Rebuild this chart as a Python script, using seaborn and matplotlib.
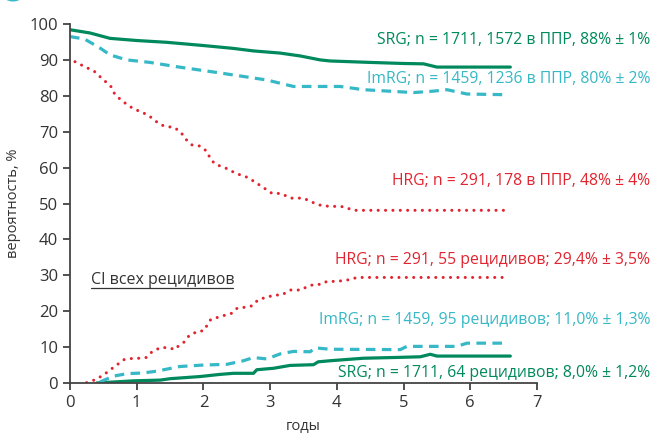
import matplotlib
matplotlib.use("Agg")
import matplotlib.pyplot as plt
import seaborn as sns
from matplotlib.patches import Circle

# colours
GREEN = "#00895c"
CYAN = "#36b8c6"
RED = "#e12530"

# --- survival curves (годы, %) ---
srg_t = [0, 0.3, 0.6, 1.0, 1.45, 2.0, 2.45, 2.75, 3.15, 3.45, 3.75, 3.9, 4.5, 5.0, 5.3, 5.5, 6.6]
srg_v = [98.4, 97.5, 96.0, 95.4, 94.9, 94.0, 93.2, 92.5, 91.9, 91.1, 90.0, 89.7, 89.3, 89.0, 88.9, 88.0, 88.0]

imrg_t = [0, 0.22, 0.45, 0.6, 0.85, 1.2, 1.6, 2.2, 2.95, 3.15, 3.35, 4.05, 4.4, 5.15, 5.45, 5.65, 5.95, 6.55]
imrg_v = [96.5, 95.8, 93.3, 91.4, 90.0, 89.3, 88.1, 86.5, 84.4, 83.5, 82.6, 82.6, 81.7, 80.9, 81.3, 81.7, 80.5, 80.3]

hrg_t = [0.075, 0.22, 0.36, 0.48, 0.61, 0.67, 0.76, 0.86, 0.96, 1.07, 1.18, 1.26, 1.36, 1.46,
         1.56, 1.66, 1.73, 1.83, 1.95, 2.06, 2.10, 2.18, 2.29, 2.39, 2.49, 2.59, 2.68, 2.77,
         2.91, 3.03, 3.16, 3.31, 3.49, 3.60, 3.69, 3.81, 4.1, 4.25, 6.55]
hrg_v = [89.5, 88.1, 86.9, 84.8, 82.7, 80.5, 78.9, 77.5, 76.3, 75.5, 74.5, 73.3, 71.9, 71.4,
         71.2, 69.9, 68.0, 66.3, 66.0, 64.4, 62.5, 60.9, 60.2, 59.4, 58.3, 57.8, 57.1, 56.0,
         54.3, 52.8, 52.8, 51.5, 51.5, 50.7, 49.8, 49.3, 49.1, 48.1, 48.1]

# --- cumulative incidence of relapse ---
hrg_ci_t = [0.25, 0.375, 0.5, 0.67, 0.81, 0.91, 1.04, 1.14, 1.23, 1.36, 1.49, 1.57, 1.63, 1.71,
            1.79, 1.93, 2.0, 2.06, 2.11, 2.27, 2.42, 2.51, 2.63, 2.73, 2.80, 2.86, 2.95, 3.05,
            3.17, 3.31, 3.46, 3.56, 3.65, 3.77, 3.85, 4.0, 4.2, 4.3, 6.55]
hrg_ci_v = [0.1, 0.9, 2.2, 4.6, 6.5, 6.8, 6.9, 7.1, 8.7, 9.9, 9.8, 9.3, 10.4, 11.4,
            13.3, 14.5, 14.5, 16.2, 17.7, 18.6, 19.4, 20.9, 21.1, 21.5, 22.8, 23.5, 23.8, 24.5,
            24.5, 25.9, 25.9, 26.9, 27.4, 27.5, 28.3, 28.3, 28.8, 29.4, 29.4]

imrg_ci_t = [0.45, 0.65, 0.85, 1.1, 1.3, 1.65, 2.0, 2.35, 2.6, 2.75, 2.95, 3.15, 3.35, 3.6, 3.67,
             3.9, 4.95, 5.05, 5.8, 5.95, 6.55]
imrg_ci_v = [0.3, 1.9, 2.6, 2.8, 3.3, 4.6, 5.0, 5.2, 6.2, 7.1, 6.7, 8.1, 8.8, 8.7, 9.8,
             9.4, 9.3, 10.2, 10.2, 11.1, 11.1]

srg_ci_t = [0.4, 0.95, 1.35, 1.5, 1.95, 2.25, 2.45, 2.75, 2.8, 3.05, 3.3, 3.65, 3.72, 3.9,
            4.4, 4.85, 5.25, 5.4, 5.5, 6.6]
srg_ci_v = [0.0, 0.6, 0.8, 1.2, 1.8, 2.4, 2.7, 2.7, 3.7, 4.1, 4.9, 5.1, 5.9, 6.2,
            6.9, 7.1, 7.3, 8.0, 7.5, 7.5]

labels = [
    ("SRG; n = 1711, 1572 в ППР, 88% ± 1%", 95.6, GREEN),
    ("ImRG; n = 1459, 1236 в ППР, 80% ± 2%", 84.7, CYAN),
    ("HRG; n = 291, 178 в ППР, 48% ± 4%", 56.4, RED),
    ("HRG; n = 291, 55 рецидивов; 29,4% ± 3,5%", 34.4, RED),
    ("ImRG; n = 1459, 95 рецидивов; 11,0% ± 1,3%", 17.6, CYAN),
    ("SRG; n = 1711, 64 рецидивов; 8,0% ± 1,2%", 2.9, GREEN),
]

sns.set_style("ticks")
plt.rcParams['font.family'] = ['Open Sans', 'DejaVu Sans']

fig = plt.figure(figsize=(6.62, 4.38), dpi=100)
ax = fig.add_axes([70 / 662, 55 / 438, 467 / 662, 359 / 438])

dash = (0, (3, 2))
dot = (0, (0.01, 2.4))

sns.lineplot(x=srg_t, y=srg_v, ax=ax, color=GREEN, lw=2.3, estimator=None, sort=False)
sns.lineplot(x=imrg_t, y=imrg_v, ax=ax, color=CYAN, lw=2.3, estimator=None, sort=False,
             linestyle=dash)
sns.lineplot(x=hrg_t, y=hrg_v, ax=ax, color=RED, lw=2.2, estimator=None, sort=False,
             linestyle=dot, dash_capstyle="round")

sns.lineplot(x=srg_ci_t, y=srg_ci_v, ax=ax, color=GREEN, lw=2.3, estimator=None, sort=False)
sns.lineplot(x=imrg_ci_t, y=imrg_ci_v, ax=ax, color=CYAN, lw=2.3, estimator=None, sort=False,
             linestyle=dash)
sns.lineplot(x=hrg_ci_t, y=hrg_ci_v, ax=ax, color=RED, lw=2.2, estimator=None, sort=False,
             linestyle=dot, dash_capstyle="round")

for txt, y, c in labels:
    ax.text(8.7, y, txt, color=c, fontsize=11.3, ha="right", va="center", clip_on=False)

ax.text(0.31, 28.8, "CI всех рецидивов", color="#333333", fontsize=11.5, ha="left", va="center")
ax.plot([0.31, 2.45], [26.5, 26.5], color="#333333", lw=0.9)

ax.set_xlim(0, 7)
ax.set_ylim(0, 100)
ax.set_xticks(range(0, 8))
ax.set_yticks(range(0, 101, 10))
ax.set_xlabel("годы", fontsize=10.5, color="#333333", labelpad=6)
ax.set_ylabel("вероятность, %", fontsize=10.5, color="#333333", labelpad=6)
ax.tick_params(labelsize=12, colors="#333333", length=5, width=1.2)
for s in ["left", "bottom"]:
    ax.spines[s].set_color("#444444")
    ax.spines[s].set_linewidth(1.3)
sns.despine(ax=ax)

# cropped circle mark in the top-left corner
fig.patches.append(Circle((13 / 662, 1 + 6 / 438), 9 / 662, transform=fig.transFigure,
                          fill=False, ec=CYAN, lw=2.2))

fig.savefig("out.png", dpi=100)
